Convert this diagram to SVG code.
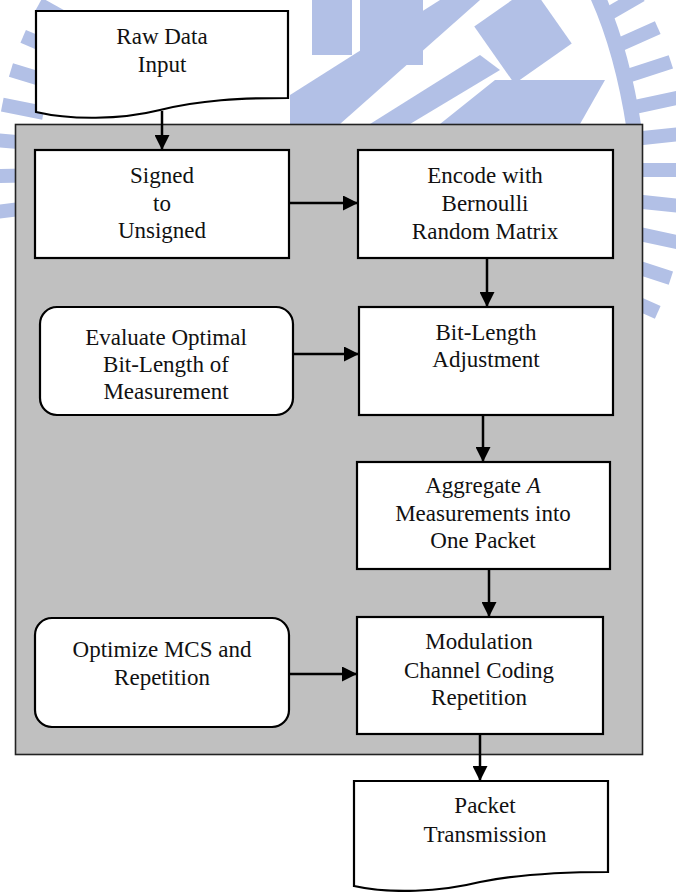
<svg xmlns="http://www.w3.org/2000/svg" width="676" height="892" viewBox="0 0 676 892">
<defs>
<style>
.wm{fill:#b2c0e6}
.box{fill:#ffffff;stroke:#000;stroke-width:2.2}
.t{font-family:"Liberation Serif","Times New Roman",serif;font-size:23px;fill:#111;text-anchor:middle}
.c{stroke:#000;stroke-width:2.5;fill:none;marker-end:url(#ah)}
</style>
<marker id="ah" markerUnits="userSpaceOnUse" markerWidth="15" markerHeight="15" refX="15" refY="7.5" orient="auto">
<path d="M0,0 L15,7.5 L0,15 Z" fill="#000"/>
</marker>
<clipPath id="clipEval"><rect x="40" y="307" width="253" height="92"/></clipPath>
</defs>
<rect width="676" height="892" fill="#fff"/>
<g id="watermark" class="wm">
<g>
<rect x="642" y="163" width="46" height="14" transform="rotate(-30 338 170)"/>
<rect x="642" y="163" width="46" height="14" transform="rotate(-24 338 170)"/>
<rect x="642" y="163" width="46" height="14" transform="rotate(-18 338 170)"/>
<rect x="642" y="163" width="46" height="14" transform="rotate(-12 338 170)"/>
<rect x="642" y="163" width="46" height="14" transform="rotate(-6 338 170)"/>
<rect x="642" y="163" width="46" height="14" transform="rotate(0 338 170)"/>
<rect x="642" y="163" width="46" height="14" transform="rotate(6 338 170)"/>
<rect x="642" y="163" width="46" height="14" transform="rotate(12 338 170)"/>
<rect x="642" y="163" width="46" height="14" transform="rotate(18 338 170)"/>
<rect x="642" y="163" width="46" height="14" transform="rotate(24 338 170)"/>
<rect x="638" y="163" width="42" height="14" transform="rotate(173 338 170)"/>
<rect x="638" y="163" width="42" height="14" transform="rotate(179 338 170)"/>
<rect x="638" y="163" width="42" height="14" transform="rotate(185 338 170)"/>
<rect x="638" y="163" width="42" height="14" transform="rotate(191 338 170)"/>
<rect x="638" y="163" width="42" height="14" transform="rotate(197 338 170)"/>
<rect x="638" y="163" width="42" height="14" transform="rotate(203 338 170)"/>
<rect x="638" y="163" width="42" height="14" transform="rotate(209 338 170)"/>
</g>
<path d="M597,-5 Q622,50 634,128" fill="none" stroke="#b2c0e6" stroke-width="15"/>
<rect x="312" y="0" width="40" height="55"/>
<rect x="360" y="0" width="63" height="65"/>
<rect x="488" y="0" width="70" height="70" transform="rotate(-35 523 35)"/>
<polygon points="290,124 290,95 440,0 480,0 340,124"/>
<polygon points="370,124 480,55 500,70 410,124"/>
<polygon points="495,80 605,80 580,124 440,124"/>
</g>
<rect id="region" x="15.5" y="124.5" width="627" height="630" fill="#c0c0c0" stroke="#222" stroke-width="1.6"/>
<g id="connectors">
<line class="c" x1="162" y1="111" x2="162" y2="150"/>
<line class="c" x1="289" y1="203" x2="358" y2="203"/>
<line class="c" x1="487" y1="258" x2="487" y2="307"/>
<line class="c" x1="293" y1="354" x2="359" y2="354"/>
<line class="c" x1="483" y1="415" x2="483" y2="462"/>
<line class="c" x1="489" y1="569" x2="489" y2="617"/>
<line class="c" x1="289" y1="674" x2="357" y2="674"/>
<line class="c" x1="480" y1="734" x2="480" y2="781"/>
</g>
<g id="raw">
<path class="box" d="M36,11 H288 V98 C240,98 200,100 160,110 C120,120 70,120 36,112 Z"/>
<text class="t" x="162" y="44">Raw Data</text>
<text class="t" x="162" y="72">Input</text>
</g>
<g id="signed">
<rect class="box" x="35" y="150" width="254" height="108"/>
<text class="t" x="162" y="183">Signed</text>
<text class="t" x="162" y="211">to</text>
<text class="t" x="162" y="238">Unsigned</text>
</g>
<g id="encode">
<rect class="box" x="358" y="150" width="255" height="108"/>
<text class="t" x="485" y="183">Encode with</text>
<text class="t" x="485" y="211">Bernoulli</text>
<text class="t" x="485" y="239">Random Matrix</text>
</g>
<g id="evaluate">
<rect class="box" x="40" y="307" width="253" height="108" rx="17"/>
<text class="t" x="166" y="345">Evaluate Optimal</text>
<text class="t" x="166" y="372">Bit-Length of</text>
<text class="t" x="166" y="399" clip-path="url(#clipEval)">Measurement</text>
</g>
<g id="bitlength">
<rect class="box" x="359" y="307" width="254" height="108"/>
<text class="t" x="486" y="340">Bit-Length</text>
<text class="t" x="486" y="367">Adjustment</text>
</g>
<g id="aggregate">
<rect class="box" x="357" y="462" width="253" height="107"/>
<text class="t" x="483" y="493">Aggregate <tspan font-style="italic">A</tspan></text>
<text class="t" x="483" y="521">Measurements into</text>
<text class="t" x="483" y="548">One Packet</text>
</g>
<g id="optimize">
<rect class="box" x="35" y="618" width="254" height="109" rx="17"/>
<text class="t" x="162" y="657">Optimize MCS and</text>
<text class="t" x="162" y="685">Repetition</text>
</g>
<g id="modulation">
<rect class="box" x="357" y="617" width="246" height="117"/>
<text class="t" x="479" y="649">Modulation</text>
<text class="t" x="479" y="678">Channel Coding</text>
<text class="t" x="479" y="705">Repetition</text>
</g>
<g id="packet">
<path class="box" d="M354,781 H608 V872 C560,872 520,874 480,882 C440,892 390,894 354,886 Z"/>
<text class="t" x="485" y="813">Packet</text>
<text class="t" x="485" y="842">Transmission</text>
</g>
</svg>
